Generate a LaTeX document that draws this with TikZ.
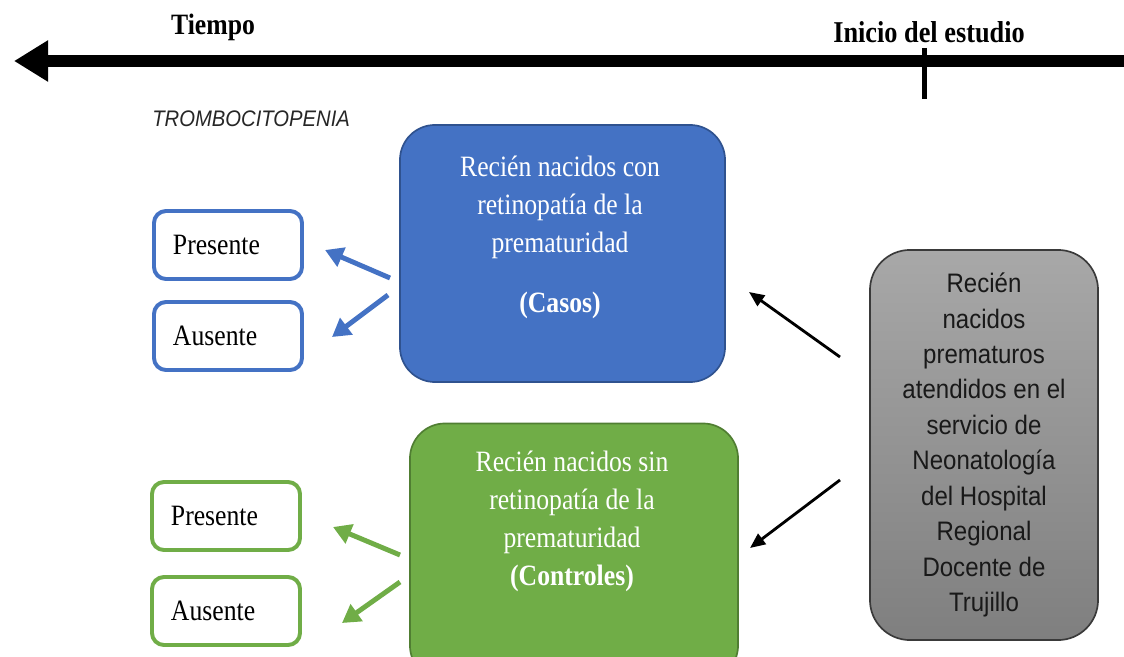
\documentclass[tikz,border=0pt]{standalone}
\usepackage{fontspec}
\setmainfont{Liberation Serif}[FakeStretch=0.87]
\newfontfamily\arialfont{Liberation Sans}[FakeStretch=0.9]
\usetikzlibrary{arrows.meta}
\definecolor{azul}{HTML}{4472C4}
\definecolor{azulborde}{HTML}{2F528F}
\definecolor{verde}{HTML}{70AD47}
\definecolor{verdeborde}{HTML}{507E32}
\definecolor{gristop}{HTML}{A8A8A8}
\definecolor{grisbot}{HTML}{7F7F7F}
\definecolor{grisborde}{HTML}{3A3A3A}
\begin{document}
\begin{tikzpicture}[x=0.025cm,y=-0.025cm,
    serif/.style={font=\fontsize{21}{27}\selectfont},
    grupo/.style={draw,line width=1.2pt,rounded corners=0.875cm,minimum width=8.125cm,minimum height=6.425cm},
    opcion/.style={draw,line width=2.8pt,rounded corners=0.3cm,fill=white,minimum width=3.7cm,minimum height=1.7cm,
                   text width=2.75cm,align=left,serif},
    flecha/.style={line width=3.5pt,-{Triangle[length=0.45cm,width=0.5cm]}},
    flechanegra/.style={line width=2pt,-{Triangle[length=0.38cm,width=0.32cm]}}]
  \useasboundingbox (0,0) rectangle (1124,657);
  \clip (0,0) rectangle (1124,657);
  % eje del tiempo
  \node[font=\fontsize{21}{27}\selectfont\bfseries] (tiempo) at (213,27) {Tiempo};
  \node[font=\fontsize{21.5}{27}\selectfont\bfseries] (inicio) at (929,32) {Inicio del estudio};
  \coordinate (ejeA) at (1124,61);
  \coordinate (ejeB) at (14,61);
  \draw[line width=0.3cm,-{Triangle[length=0.85cm,width=0.975cm]}] (ejeA) -- (ejeB);
  \coordinate (marcaA) at (924,48);
  \coordinate (marcaB) at (924,99);
  \draw[line width=0.125cm] (marcaA) -- (marcaB);
  \node[anchor=west,inner sep=0pt,text=black!85,font=\arialfont\itshape\fontsize{16}{19}\selectfont] (trombo) at (152,119) {TROMBOCITOPENIA};
  % grupos
  \node[grupo,fill=azul,draw=azulborde] (casos) at (562.5,253.5) {};
  \node[serif,text=white,align=center] (casostxt) at (560,237) {Recién nacidos con\\ retinopatía de la\\ prematuridad\\[0.55cm] \textbf{(Casos)}};
  \node[grupo,fill=verde,draw=verdeborde,minimum width=8.2cm] (controles) at (574,552) {};
  \node[serif,text=white,align=center] (controlestxt) at (572,521.5) {Recién nacidos sin\\ retinopatía de la\\ prematuridad\\ \textbf{(Controles)}};
  \node[draw=grisborde,line width=1.2pt,rounded corners=1cm,top color=gristop,bottom color=grisbot,
        minimum width=5.7cm,minimum height=9.75cm,align=center,text=black!90,
        font=\arialfont\fontsize{19}{25.2}\selectfont] (poblacion) at (984,445)
        {Recién\\ nacidos\\ prematuros\\ atendidos en el\\ servicio de\\ Neonatología\\ del Hospital\\ Regional\\ Docente de\\ Trujillo};
  % trombocitopenia
  \node[opcion,draw=azul] (pres1) at (228,245) {Presente};
  \node[opcion,draw=azul] (aus1) at (228,336) {Ausente};
  \node[opcion,draw=verde] (pres2) at (226,516) {Presente};
  \node[opcion,draw=verde] (aus2) at (226,611) {Ausente};
  % flechas
  \coordinate (c1) at (390,278); \coordinate (c1f) at (325,250);
  \coordinate (c2) at (388,295); \coordinate (c2f) at (332,337);
  \coordinate (k1) at (400,555); \coordinate (k1f) at (333,527);
  \coordinate (k2) at (400,582); \coordinate (k2f) at (342,623);
  \coordinate (p1) at (840,357); \coordinate (p1f) at (749,292);
  \coordinate (p2) at (840,480); \coordinate (p2f) at (750,548);
  \draw[flecha,azul] (c1) -- (c1f);
  \draw[flecha,azul] (c2) -- (c2f);
  \draw[flecha,verde] (k1) -- (k1f);
  \draw[flecha,verde] (k2) -- (k2f);
  \draw[flechanegra] (p1) -- (p1f);
  \draw[flechanegra] (p2) -- (p2f);
\end{tikzpicture}
\end{document}
